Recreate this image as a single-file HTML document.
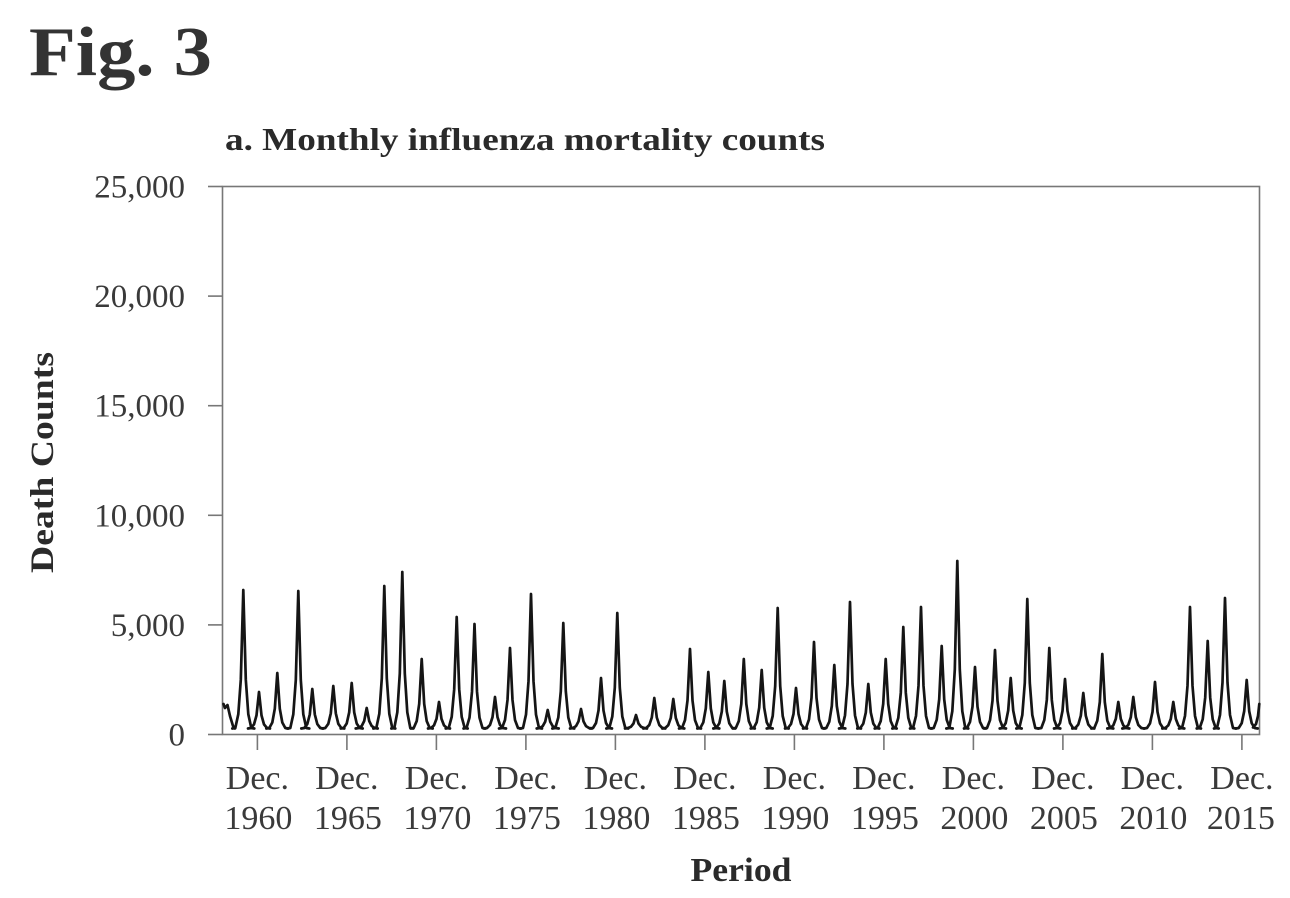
<!DOCTYPE html>
<html>
<head>
<meta charset="utf-8">
<style>
  html, body { margin: 0; padding: 0; background: #ffffff; }
  svg { display: block; }
</style>
</head>
<body>
<svg width="1290" height="898" viewBox="0 0 1290 898" xmlns="http://www.w3.org/2000/svg">
  <rect x="0" y="0" width="1290" height="898" fill="#ffffff"/>

  <text x="29" y="75" font-family="Liberation Serif, serif" font-weight="bold" font-size="70" fill="#333" textLength="183" lengthAdjust="spacingAndGlyphs">Fig. 3</text>

  <text x="225" y="150" font-family="Liberation Serif, serif" font-weight="bold" font-size="32" fill="#2a2a2a" textLength="600" lengthAdjust="spacingAndGlyphs">a. Monthly influenza mortality counts</text>

  <text transform="translate(53,462.5) rotate(-90)" text-anchor="middle" font-family="Liberation Serif, serif" font-weight="bold" font-size="33" fill="#2a2a2a" textLength="221" lengthAdjust="spacingAndGlyphs">Death Counts</text>

  <text x="741" y="881" text-anchor="middle" font-family="Liberation Serif, serif" font-weight="bold" font-size="34" fill="#2a2a2a" textLength="101" lengthAdjust="spacingAndGlyphs">Period</text>

  <g stroke="#777" stroke-width="1.6" fill="none">
    <rect x="222.5" y="186.5" width="1037" height="548"/>
    <line x1="208" y1="186.5" x2="222.5" y2="186.5"/>
    <line x1="208" y1="296.1" x2="222.5" y2="296.1"/>
    <line x1="208" y1="405.7" x2="222.5" y2="405.7"/>
    <line x1="208" y1="515.3" x2="222.5" y2="515.3"/>
    <line x1="208" y1="624.9" x2="222.5" y2="624.9"/>
    <line x1="208" y1="734.5" x2="222.5" y2="734.5"/>
    <line x1="257.4" y1="734.5" x2="257.4" y2="750"/>
    <line x1="346.9" y1="734.5" x2="346.9" y2="750"/>
    <line x1="436.4" y1="734.5" x2="436.4" y2="750"/>
    <line x1="525.9" y1="734.5" x2="525.9" y2="750"/>
    <line x1="615.4" y1="734.5" x2="615.4" y2="750"/>
    <line x1="704.9" y1="734.5" x2="704.9" y2="750"/>
    <line x1="794.4" y1="734.5" x2="794.4" y2="750"/>
    <line x1="883.9" y1="734.5" x2="883.9" y2="750"/>
    <line x1="973.4" y1="734.5" x2="973.4" y2="750"/>
    <line x1="1062.9" y1="734.5" x2="1062.9" y2="750"/>
    <line x1="1152.4" y1="734.5" x2="1152.4" y2="750"/>
    <line x1="1241.9" y1="734.5" x2="1241.9" y2="750"/>
  </g>

  <g font-family="Liberation Serif, serif" font-size="33" fill="#3a3a3a" text-anchor="end">
    <text x="185" y="197.5">25,000</text>
    <text x="185" y="307.1">20,000</text>
    <text x="185" y="416.7">15,000</text>
    <text x="185" y="526.3">10,000</text>
    <text x="185" y="635.9">5,000</text>
    <text x="185" y="745.5">0</text>
  </g>

  <g font-family="Liberation Serif, serif" font-size="34" fill="#3a3a3a" text-anchor="middle">
    <text x="257.4" y="789">Dec.</text><text x="258.4" y="829">1960</text>
    <text x="346.9" y="789">Dec.</text><text x="347.9" y="829">1965</text>
    <text x="436.4" y="789">Dec.</text><text x="437.4" y="829">1970</text>
    <text x="525.9" y="789">Dec.</text><text x="526.9" y="829">1975</text>
    <text x="615.4" y="789">Dec.</text><text x="616.4" y="829">1980</text>
    <text x="704.9" y="789">Dec.</text><text x="705.9" y="829">1985</text>
    <text x="794.4" y="789">Dec.</text><text x="795.4" y="829">1990</text>
    <text x="883.9" y="789">Dec.</text><text x="884.9" y="829">1995</text>
    <text x="973.4" y="789">Dec.</text><text x="974.4" y="829">2000</text>
    <text x="1062.9" y="789">Dec.</text><text x="1063.9" y="829">2005</text>
    <text x="1152.4" y="789">Dec.</text><text x="1153.4" y="829">2010</text>
    <text x="1241.9" y="789">Dec.</text><text x="1240.9" y="829">2015</text>
  </g>

  <g stroke="#151515" stroke-width="2.7" fill="none" stroke-linejoin="round" stroke-linecap="round">
    <polyline points="223.5,704 225,708 227.5,705 230,716 233,726 235,728.5"/>
    <polyline points="1253,727.5 1256,724 1258,716 1259.3,704"/>

    <polyline transform="translate(243.3,0)" points="-11,728.5 -8,728 -5,714.2 -2.5,679.7 0,590 2.5,679.7 5,714.2 8,728 11,728.5"/>
    <polyline transform="translate(259,0)" points="-11,728.5 -8,728 -5,724.4 -2.5,715.4 0,692 2.5,715.4 5,724.4 8,728 11,728.5"/>
    <polyline transform="translate(277.3,0)" points="-11,728.5 -8,728 -5,722.5 -2.5,708.8 0,673 2.5,708.8 5,722.5 8,728 11,728.5"/>
    <polyline transform="translate(298.3,0)" points="-11,728.5 -8,728 -5,714.3 -2.5,680 0,591 2.5,680 5,714.3 8,728 11,728.5"/>
    <polyline transform="translate(312.3,0)" points="-11,728.5 -8,728 -5,724.1 -2.5,714.4 0,689 2.5,714.4 5,724.1 8,728 11,728.5"/>
    <polyline transform="translate(333.3,0)" points="-11,728.5 -8,728 -5,723.8 -2.5,713.3 0,686 2.5,713.3 5,723.8 8,728 11,728.5"/>
    <polyline transform="translate(351.7,0)" points="-11,728.5 -8,728 -5,723.5 -2.5,712.3 0,683 2.5,712.3 5,723.5 8,728 11,728.5"/>
    <polyline transform="translate(366.7,0)" points="-11,728.5 -8,728 -5,726 -2.5,721 0,708 2.5,721 5,726 8,728 11,728.5"/>
    <polyline transform="translate(384.3,0)" points="-11,728.5 -8,728 -5,713.8 -2.5,678.3 0,586 2.5,678.3 5,713.8 8,728 11,728.5"/>
    <polyline transform="translate(402.3,0)" points="-11,728.5 -8,728 -5,712.4 -2.5,673.4 0,572 2.5,673.4 5,712.4 8,728 11,728.5"/>
    <polyline transform="translate(421.7,0)" points="-11,728.5 -8,728 -5,721.1 -2.5,703.9 0,659 2.5,703.9 5,721.1 8,728 11,728.5"/>
    <polyline transform="translate(439,0)" points="-11,728.5 -8,728 -5,725.4 -2.5,718.9 0,702 2.5,718.9 5,725.4 8,728 11,728.5"/>
    <polyline transform="translate(456.7,0)" points="-11,728.5 -8,728 -5,716.9 -2.5,689.2 0,617 2.5,689.2 5,716.9 8,728 11,728.5"/>
    <polyline transform="translate(474.5,0)" points="-11,728.5 -8,728 -5,717.6 -2.5,691.6 0,624 2.5,691.6 5,717.6 8,728 11,728.5"/>
    <polyline transform="translate(495,0)" points="-11,728.5 -8,728 -5,724.9 -2.5,717.2 0,697 2.5,717.2 5,724.9 8,728 11,728.5"/>
    <polyline transform="translate(510,0)" points="-11,728.5 -8,728 -5,720 -2.5,700 0,648 2.5,700 5,720 8,728 11,728.5"/>
    <polyline transform="translate(531,0)" points="-11,728.5 -8,728 -5,714.6 -2.5,681.1 0,594 2.5,681.1 5,714.6 8,728 11,728.5"/>
    <polyline transform="translate(547.7,0)" points="-11,728.5 -8,728 -5,726.2 -2.5,721.7 0,710 2.5,721.7 5,726.2 8,728 11,728.5"/>
    <polyline transform="translate(563.3,0)" points="-11,728.5 -8,728 -5,717.5 -2.5,691.3 0,623 2.5,691.3 5,717.5 8,728 11,728.5"/>
    <polyline transform="translate(581,0)" points="-11,728.5 -8,728 -5,726.1 -2.5,721.4 0,709 2.5,721.4 5,726.1 8,728 11,728.5"/>
    <polyline transform="translate(601,0)" points="-11,728.5 -8,728 -5,723 -2.5,710.5 0,678 2.5,710.5 5,723 8,728 11,728.5"/>
    <polyline transform="translate(617.3,0)" points="-11,728.5 -8,728 -5,716.5 -2.5,687.8 0,613 2.5,687.8 5,716.5 8,728 11,728.5"/>
    <polyline transform="translate(636,0)" points="-11,728.5 -8,728 -5,726.7 -2.5,723.5 0,715 2.5,723.5 5,726.7 8,728 11,728.5"/>
    <polyline transform="translate(654.3,0)" points="-11,728.5 -8,728 -5,725 -2.5,717.5 0,698 2.5,717.5 5,725 8,728 11,728.5"/>
    <polyline transform="translate(673.3,0)" points="-11,728.5 -8,728 -5,725.1 -2.5,717.9 0,699 2.5,717.9 5,725.1 8,728 11,728.5"/>
    <polyline transform="translate(690,0)" points="-11,728.5 -8,728 -5,720.1 -2.5,700.4 0,649 2.5,700.4 5,720.1 8,728 11,728.5"/>
    <polyline transform="translate(708.3,0)" points="-11,728.5 -8,728 -5,722.4 -2.5,708.4 0,672 2.5,708.4 5,722.4 8,728 11,728.5"/>
    <polyline transform="translate(724.3,0)" points="-11,728.5 -8,728 -5,723.3 -2.5,711.6 0,681 2.5,711.6 5,723.3 8,728 11,728.5"/>
    <polyline transform="translate(743.8,0)" points="-11,728.5 -8,728 -5,721.1 -2.5,703.9 0,659 2.5,703.9 5,721.1 8,728 11,728.5"/>
    <polyline transform="translate(761.7,0)" points="-11,728.5 -8,728 -5,722.2 -2.5,707.7 0,670 2.5,707.7 5,722.2 8,728 11,728.5"/>
    <polyline transform="translate(777.7,0)" points="-11,728.5 -8,728 -5,716 -2.5,686 0,608 2.5,686 5,716 8,728 11,728.5"/>
    <polyline transform="translate(796,0)" points="-11,728.5 -8,728 -5,724 -2.5,714 0,688 2.5,714 5,724 8,728 11,728.5"/>
    <polyline transform="translate(814,0)" points="-11,728.5 -8,728 -5,719.4 -2.5,697.9 0,642 2.5,697.9 5,719.4 8,728 11,728.5"/>
    <polyline transform="translate(834.3,0)" points="-11,728.5 -8,728 -5,721.7 -2.5,706 0,665 2.5,706 5,721.7 8,728 11,728.5"/>
    <polyline transform="translate(850,0)" points="-11,728.5 -8,728 -5,715.4 -2.5,683.9 0,602 2.5,683.9 5,715.4 8,728 11,728.5"/>
    <polyline transform="translate(868.3,0)" points="-11,728.5 -8,728 -5,723.6 -2.5,712.6 0,684 2.5,712.6 5,723.6 8,728 11,728.5"/>
    <polyline transform="translate(885.7,0)" points="-11,728.5 -8,728 -5,721.1 -2.5,703.9 0,659 2.5,703.9 5,721.1 8,728 11,728.5"/>
    <polyline transform="translate(903.3,0)" points="-11,728.5 -8,728 -5,717.9 -2.5,692.7 0,627 2.5,692.7 5,717.9 8,728 11,728.5"/>
    <polyline transform="translate(921,0)" points="-11,728.5 -8,728 -5,715.9 -2.5,685.7 0,607 2.5,685.7 5,715.9 8,728 11,728.5"/>
    <polyline transform="translate(941.7,0)" points="-11,728.5 -8,728 -5,719.8 -2.5,699.3 0,646 2.5,699.3 5,719.8 8,728 11,728.5"/>
    <polyline transform="translate(957.3,0)" points="-11,728.5 -8,728 -5,711.3 -2.5,669.6 0,561 2.5,669.6 5,711.3 8,728 11,728.5"/>
    <polyline transform="translate(975,0)" points="-11,728.5 -8,728 -5,721.9 -2.5,706.7 0,667 2.5,706.7 5,721.9 8,728 11,728.5"/>
    <polyline transform="translate(995,0)" points="-11,728.5 -8,728 -5,720.2 -2.5,700.7 0,650 2.5,700.7 5,720.2 8,728 11,728.5"/>
    <polyline transform="translate(1010.7,0)" points="-11,728.5 -8,728 -5,723 -2.5,710.5 0,678 2.5,710.5 5,723 8,728 11,728.5"/>
    <polyline transform="translate(1027.3,0)" points="-11,728.5 -8,728 -5,715.1 -2.5,682.9 0,599 2.5,682.9 5,715.1 8,728 11,728.5"/>
    <polyline transform="translate(1049.3,0)" points="-11,728.5 -8,728 -5,720 -2.5,700 0,648 2.5,700 5,720 8,728 11,728.5"/>
    <polyline transform="translate(1065,0)" points="-11,728.5 -8,728 -5,723.1 -2.5,710.9 0,679 2.5,710.9 5,723.1 8,728 11,728.5"/>
    <polyline transform="translate(1083.3,0)" points="-11,728.5 -8,728 -5,724.5 -2.5,715.8 0,693 2.5,715.8 5,724.5 8,728 11,728.5"/>
    <polyline transform="translate(1102.3,0)" points="-11,728.5 -8,728 -5,720.6 -2.5,702.1 0,654 2.5,702.1 5,720.6 8,728 11,728.5"/>
    <polyline transform="translate(1118.3,0)" points="-11,728.5 -8,728 -5,725.4 -2.5,718.9 0,702 2.5,718.9 5,725.4 8,728 11,728.5"/>
    <polyline transform="translate(1133.3,0)" points="-11,728.5 -8,728 -5,724.9 -2.5,717.2 0,697 2.5,717.2 5,724.9 8,728 11,728.5"/>
    <polyline transform="translate(1155,0)" points="-11,728.5 -8,728 -5,723.4 -2.5,711.9 0,682 2.5,711.9 5,723.4 8,728 11,728.5"/>
    <polyline transform="translate(1173.3,0)" points="-11,728.5 -8,728 -5,725.4 -2.5,718.9 0,702 2.5,718.9 5,725.4 8,728 11,728.5"/>
    <polyline transform="translate(1190,0)" points="-11,728.5 -8,728 -5,715.9 -2.5,685.7 0,607 2.5,685.7 5,715.9 8,728 11,728.5"/>
    <polyline transform="translate(1207.7,0)" points="-11,728.5 -8,728 -5,719.3 -2.5,697.6 0,641 2.5,697.6 5,719.3 8,728 11,728.5"/>
    <polyline transform="translate(1225,0)" points="-11,728.5 -8,728 -5,715 -2.5,682.5 0,598 2.5,682.5 5,715 8,728 11,728.5"/>
    <polyline transform="translate(1246.7,0)" points="-11,728.5 -8,728 -5,723.2 -2.5,711.2 0,680 2.5,711.2 5,723.2 8,728 11,728.5"/>
  </g>
</svg>
</body>
</html>
